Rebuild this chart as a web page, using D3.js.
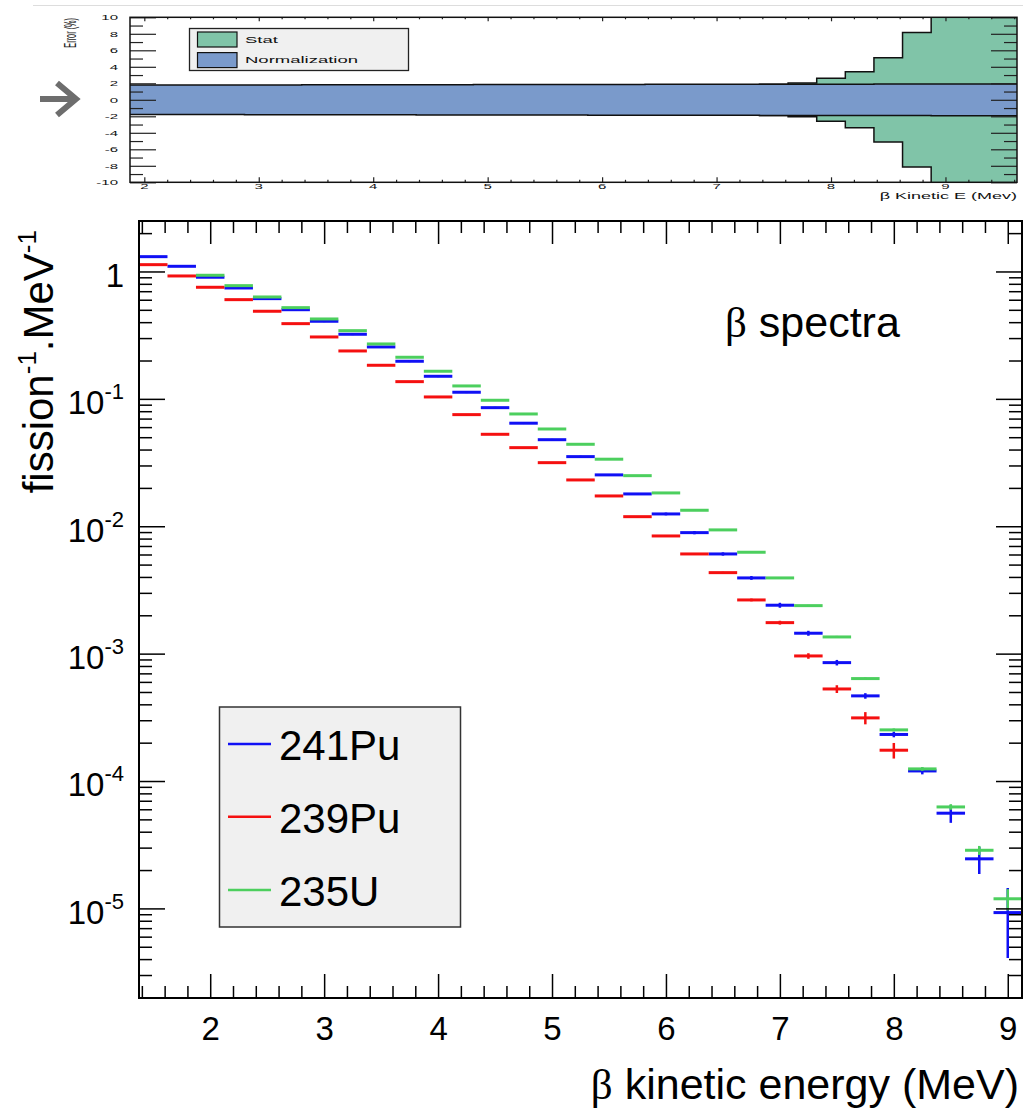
<!DOCTYPE html>
<html>
<head>
<meta charset="utf-8">
<script src="https://cdn.jsdelivr.net/npm/d3@7"></script>
<style>
  html, body { margin: 0; padding: 0; background: #fff; }
  svg { display: block; font-family: "Liberation Sans", Arial, Helvetica, sans-serif; }
</style>
</head>
<body>
<svg id="chart" width="1023" height="1111"></svg>
<script>
// ---- spectra: bin centres (MeV), bins are 0.25 MeV wide ----
const energies = [1.5, 1.75, 2.0, 2.25, 2.5, 2.75, 3.0, 3.25, 3.5, 3.75, 4.0, 4.25, 4.5, 4.75, 5.0, 5.25,
                  5.5, 5.75, 6.0, 6.25, 6.5, 6.75, 7.0, 7.25, 7.5, 7.75, 8.0, 8.25, 8.5, 8.75, 9.0];
const pu241 = [1.307, 1.098, 0.901, 0.742, 0.612, 0.501, 0.4065, 0.3214, 0.2556, 0.1973, 0.1504, 0.1127,
               0.0853, 0.0644, 0.0478, 0.0352, 0.0253, 0.01793, 0.01249, 0.00891, 0.00606, 0.003929,
               0.002399, 0.001446, 0.000850, 0.000466, 0.000232, 0.000120, 5.59e-5, 2.45e-5, 9.27e-6];
const pu239 = [1.131, 0.922, 0.7515, 0.6009, 0.4871, 0.3894, 0.3061, 0.2377, 0.1835, 0.1365, 0.1035, 0.0752,
               0.0527, 0.0414, 0.03156, 0.02309, 0.01729, 0.01189, 0.00839, 0.00606, 0.004323, 0.002639,
               0.001751, 0.000959, 0.000528, 0.000313, 0.0001745, null, null, null, null];
const u235 = [null, null, 0.9337, 0.7739, 0.6307, 0.5199, 0.4238, 0.3430, 0.2698, 0.2121, 0.1647, 0.1263,
              0.0975, 0.0761, 0.0580, 0.0440, 0.0336, 0.02495, 0.01826, 0.01335, 0.00936, 0.00625,
              0.003929, 0.002381, 0.001352, 0.000637, 0.000252, 0.0001245, 6.26e-5, 2.86e-5, 1.19e-5];
// relative errors (fraction of value)
const pu241Err = [0.01, 0.01, 0.01, 0.01, 0.01, 0.01, 0.015, 0.015, 0.015, 0.015, 0.015, 0.015, 0.015, 0.015,
                  0.015, 0.015, 0.015, 0.015, 0.025, 0.03, 0.03, 0.035, 0.045, 0.045, 0.05, 0.05, 0.05,
                  0.06, 0.16, 0.24, 0.56];
const pu239Err = [0.01, 0.01, 0.01, 0.01, 0.01, 0.01, 0.01, 0.01, 0.01, 0.01, 0.01, 0.01, 0.01, 0.01, 0.01,
                  0.01, 0.01, 0.01, 0.01, 0.012, 0.015, 0.025, 0.035, 0.05, 0.07, 0.11, 0.14,
                  null, null, null, null];

// ---- error panel (235U): stat and normalization, in % ----
const errEnergies = [2.0, 2.25, 2.5, 2.75, 3.0, 3.25, 3.5, 3.75, 4.0, 4.25, 4.5, 4.75, 5.0, 5.25, 5.5, 5.75,
                     6.0, 6.25, 6.5, 6.75, 7.0, 7.25, 7.5, 7.75, 8.0, 8.25, 8.5, 8.75, 9.0, 9.25, 9.5];
const statErr = [0.3, 0.3, 0.3, 0.3, 0.3, 0.3, 0.35, 0.35, 0.4, 0.4, 0.45, 0.5, 0.5, 0.55, 0.6, 0.65,
                 0.7, 0.8, 0.9, 1.0, 1.2, 1.4, 1.9, 2.05, 2.6, 3.4, 5.1, 8.15, 19, 35, 60];
const normErr = [1.78, 1.78, 1.79, 1.79, 1.80, 1.80, 1.81, 1.81, 1.82, 1.82, 1.83, 1.83, 1.84, 1.84, 1.85,
                 1.85, 1.86, 1.86, 1.87, 1.87, 1.88, 1.88, 1.89, 1.89, 1.90, 1.90, 1.91, 1.91, 1.92, 1.92, 1.93];

// ---- labels / ticks ----
const seriesNames = ["241Pu", "239Pu", "235U"];
const seriesColors = ["#1010f5", "#f51010", "#4ccf5e"];
const errLegend = ["Stat", "Normalization"];
const errColors = ["#80c4a8", "#7a9acb"];
const errYTicks = [-10, -8, -6, -4, -2, 0, 2, 4, 6, 8, 10];
const errYMinor = [-9, -7, -5, -3, -1, 1, 3, 5, 7, 9];
const errXTicks = [2, 3, 4, 5, 6, 7, 8, 9];
const specXTicks = [2, 3, 4, 5, 6, 7, 8, 9];
const specYTicks = [1e-5, 1e-4, 1e-3, 1e-2, 1e-1, 1];

const svg = d3.select("#chart");
const halfBin = 0.125;

/**
 * Draw text squashed vertically (the error panel is a flattened picture).
 */
function squashed(g, str, x, y, size, sy, anchor) {
    return g.append("text")
        .attr("transform", `translate(${x},${y}) scale(1,${sy})`)
        .attr("font-size", size)
        .attr("text-anchor", anchor)
        .attr("fill", "#111")
        .text(str);
}

function styleTicks(g, colour, width) {
    g.select(".domain").remove();
    g.selectAll("line").attr("stroke", colour).attr("stroke-width", width);
}

// ===================== error panel =====================
const errBox = {left: 130, right: 1017, top: 17.3, bottom: 182.3};
const xErr = d3.scaleLinear().domain([1.875, 9.625]).range([errBox.left, errBox.right]);
const yErr = d3.scaleLinear().domain([-10, 10]).range([errBox.bottom, errBox.top]);

svg.append("line")
    .attr("x1", 33).attr("x2", 1023).attr("y1", 5.5).attr("y2", 5.5)
    .attr("stroke", "#dddddd").attr("stroke-width", 1.2);

// grey arrow on the left
svg.append("path")
    .attr("d", "M40,99H75M57,83L76,99L57,115")
    .attr("fill", "none")
    .attr("stroke", "#6d6d6d")
    .attr("stroke-width", 6);

svg.append("clipPath").attr("id", "errClip").append("rect")
    .attr("x", errBox.left).attr("y", errBox.top)
    .attr("width", errBox.right - errBox.left).attr("height", errBox.bottom - errBox.top);

function stepPoints(centres, vals) {
    return centres.flatMap((c, i) => [[c - halfBin, vals[i]], [c + halfBin, vals[i]]]);
}

const band = d3.area().x(d => xErr(d[0])).y0(d => yErr(-d[1])).y1(d => yErr(d[1]));
const upperEdge = d3.line().x(d => xErr(d[0])).y(d => yErr(d[1]));
const lowerEdge = d3.line().x(d => xErr(d[0])).y(d => yErr(-d[1]));

const errPlot = svg.append("g").attr("clip-path", "url(#errClip)");
[statErr, normErr].forEach((vals, k) => {
    const pts = stepPoints(errEnergies, vals);
    errPlot.append("path").attr("d", band(pts)).attr("fill", errColors[k]);
    errPlot.append("path").attr("d", upperEdge(pts))
        .attr("fill", "none").attr("stroke", "#111").attr("stroke-width", 1.5);
    errPlot.append("path").attr("d", lowerEdge(pts))
        .attr("fill", "none").attr("stroke", "#111").attr("stroke-width", 1.5);
});

// ticks of the error panel
const errXMinor = d3.range(20, 97, 2).map(v => v / 10).filter(v => !Number.isInteger(v));
svg.append("g").attr("transform", `translate(${errBox.left},0)`)
    .call(d3.axisRight(yErr).tickValues(errYTicks).tickSize(26).tickFormat(""))
    .call(g => styleTicks(g, "#222", 1.2));
svg.append("g").attr("transform", `translate(${errBox.left},0)`)
    .call(d3.axisRight(yErr).tickValues(errYMinor).tickSize(13).tickFormat(""))
    .call(g => styleTicks(g, "#222", 1.2));
svg.append("g").attr("transform", `translate(${errBox.right},0)`)
    .call(d3.axisLeft(yErr).tickValues(errYTicks).tickSize(26).tickFormat(""))
    .call(g => styleTicks(g, "#222", 1.2));
svg.append("g").attr("transform", `translate(${errBox.right},0)`)
    .call(d3.axisLeft(yErr).tickValues(errYMinor).tickSize(13).tickFormat(""))
    .call(g => styleTicks(g, "#222", 1.2));
svg.append("g").attr("transform", `translate(0,${errBox.bottom})`)
    .call(d3.axisTop(xErr).tickValues(errXTicks).tickSize(5).tickFormat(""))
    .call(g => styleTicks(g, "#222", 1.2));
svg.append("g").attr("transform", `translate(0,${errBox.bottom})`)
    .call(d3.axisTop(xErr).tickValues(errXMinor).tickSize(2.5).tickFormat(""))
    .call(g => styleTicks(g, "#222", 1.2));
svg.append("g").attr("transform", `translate(0,${errBox.top})`)
    .call(d3.axisBottom(xErr).tickValues(errXTicks).tickSize(4).tickFormat(""))
    .call(g => styleTicks(g, "#222", 1.2));
svg.append("g").attr("transform", `translate(0,${errBox.top})`)
    .call(d3.axisBottom(xErr).tickValues(errXMinor).tickSize(2).tickFormat(""))
    .call(g => styleTicks(g, "#222", 1.2));

svg.append("rect")
    .attr("x", errBox.left).attr("y", errBox.top)
    .attr("width", errBox.right - errBox.left).attr("height", errBox.bottom - errBox.top)
    .attr("fill", "none").attr("stroke", "#111").attr("stroke-width", 1.5);

const errLabels = svg.append("g");
errYTicks.forEach(v => squashed(errLabels, String(v), 118, yErr(v) + 2.8, 15, 0.5, "end"));
errXTicks.forEach(v => squashed(errLabels, String(v), xErr(v), 189.3, 15, 0.45, "middle"));
squashed(errLabels, "\u03b2 Kinetic E (Mev)", 1017, 199, 18, 0.52, "end");

errLabels.append("text")
    .attr("transform", "translate(76,18) rotate(-90) scale(0.43,1)")
    .attr("font-size", 17)
    .attr("text-anchor", "end")
    .attr("fill", "#222")
    .text("Error (%)");

// legend of the error panel
const errLeg = svg.append("g");
errLeg.append("rect")
    .attr("x", 189.5).attr("y", 28.5).attr("width", 219).attr("height", 42)
    .attr("fill", "#f0f0f0").attr("stroke", "#222").attr("stroke-width", 1.3);
errLegend.forEach((name, i) => {
    errLeg.append("rect")
        .attr("x", 197.5).attr("y", 32 + i * 20.6).attr("width", 39.5).attr("height", 15)
        .attr("fill", errColors[i]).attr("stroke", "#111").attr("stroke-width", 1.2);
    squashed(errLeg, name, 245, 43.3 + i * 20, 18.5, 0.53, "start");
});

// ===================== spectra panel =====================
const specBox = {left: 139, right: 1022, top: 221, bottom: 998};
const x = d3.scaleLinear().domain([1.375, 9.125]).range([specBox.left, specBox.right]);
const y = d3.scaleLog().domain([1.98e-6, 2.49]).range([specBox.bottom, specBox.top]);

svg.append("clipPath").attr("id", "specClip").append("rect")
    .attr("x", specBox.left).attr("y", specBox.top)
    .attr("width", specBox.right - specBox.left).attr("height", specBox.bottom - specBox.top);

const plot = svg.append("g").attr("clip-path", "url(#specClip)");
const series = [
    {values: pu241, err: pu241Err},
    {values: pu239, err: pu239Err},
    {values: u235, err: energies.map(e => {
        const k = errEnergies.indexOf(e);
        return k < 0 ? null : statErr[k] / 100;
    })}
];

series.forEach((s, k) => {
    const bins = energies.map((e, i) => ({e: e, v: s.values[i], r: s.err[i]}))
        .filter(d => d.v !== null);
    const g = plot.append("g").attr("stroke", seriesColors[k]);
    g.selectAll("line.bar").data(bins).enter().append("line")
        .attr("class", "bar")
        .attr("x1", d => x(d.e - halfBin))
        .attr("x2", d => x(d.e + halfBin))
        .attr("y1", d => y(d.v))
        .attr("y2", d => y(d.v))
        .attr("stroke-width", 3);
    g.selectAll("line.err").data(bins).enter().append("line")
        .attr("class", "err")
        .attr("x1", d => x(d.e))
        .attr("x2", d => x(d.e))
        .attr("y1", d => y(d.v * (1 + d.r)))
        .attr("y2", d => y(d.v * (1 - d.r)))
        .attr("stroke-width", 2.5);
});

// axes of the spectra panel
const specXMinor = d3.range(14, 92, 2).map(v => v / 10).filter(v => !Number.isInteger(v));
const specYMinor = [];
[1e-6, 1e-5, 1e-4, 1e-3, 1e-2, 1e-1, 1].forEach(dec => {
    for (let m = 2; m <= 9; m++) {
        const v = dec * m;
        if (v > y.domain()[0] && v < y.domain()[1]) specYMinor.push(v);
    }
});

const xAxis = svg.append("g").attr("transform", `translate(0,${specBox.bottom})`)
    .call(d3.axisBottom(x).tickValues(specXTicks).tickSize(-24).tickPadding(19).tickFormat(d3.format("d")))
    .call(g => styleTicks(g, "#000", 1.5));
xAxis.selectAll("text")
    .attr("font-family", "'Liberation Sans', Arial, sans-serif")
    .attr("font-size", 33).attr("fill", "#000");

svg.append("g").attr("transform", `translate(0,${specBox.bottom})`)
    .call(d3.axisBottom(x).tickValues(specXMinor).tickSize(-12).tickFormat(""))
    .call(g => styleTicks(g, "#000", 1.5));
svg.append("g").attr("transform", `translate(0,${specBox.top})`)
    .call(d3.axisTop(x).tickValues(specXTicks).tickSize(-23).tickFormat(""))
    .call(g => styleTicks(g, "#000", 1.5));
svg.append("g").attr("transform", `translate(0,${specBox.top})`)
    .call(d3.axisTop(x).tickValues(specXMinor).tickSize(-12).tickFormat(""))
    .call(g => styleTicks(g, "#000", 1.5));

const yAxis = svg.append("g").attr("transform", `translate(${specBox.left},0)`)
    .call(d3.axisLeft(y).tickValues(specYTicks).tickSize(-26).tickPadding(15).tickFormat(() => ""))
    .call(g => styleTicks(g, "#000", 1.5));
yAxis.selectAll("text")
    .attr("font-family", "'Liberation Sans', Arial, sans-serif")
    .attr("font-size", 33).attr("fill", "#000").attr("dy", "0.45em")
    .each(function(d) {
        const t = d3.select(this);
        if (d === 1) {
            t.append("tspan").text("1");
        } else {
            t.append("tspan").text("10");
            t.append("tspan").attr("dy", -15).attr("font-size", 22).text(Math.round(Math.log10(d)));
        }
    });
svg.append("g").attr("transform", `translate(${specBox.left},0)`)
    .call(d3.axisLeft(y).tickValues(specYMinor).tickSize(-13).tickFormat(""))
    .call(g => styleTicks(g, "#000", 1.5));
svg.append("g").attr("transform", `translate(${specBox.right},0)`)
    .call(d3.axisRight(y).tickValues(specYTicks).tickSize(-26).tickFormat(""))
    .call(g => styleTicks(g, "#000", 1.5));
svg.append("g").attr("transform", `translate(${specBox.right},0)`)
    .call(d3.axisRight(y).tickValues(specYMinor).tickSize(-13).tickFormat(""))
    .call(g => styleTicks(g, "#000", 1.5));

svg.append("rect")
    .attr("x", specBox.left).attr("y", specBox.top)
    .attr("width", specBox.right - specBox.left).attr("height", specBox.bottom - specBox.top)
    .attr("fill", "none").attr("stroke", "#000").attr("stroke-width", 2);

// axis titles
const yTitle = svg.append("text")
    .attr("transform", "translate(53,230) rotate(-90)")
    .attr("text-anchor", "end")
    .attr("font-size", 42)
    .attr("fill", "#000");
yTitle.append("tspan").text("fission");
yTitle.append("tspan").attr("dy", -17).attr("font-size", 26).text("-1");
yTitle.append("tspan").attr("dy", 17).text(".MeV");
yTitle.append("tspan").attr("dy", -17).attr("font-size", 26).text("-1");

const xTitle = svg.append("text")
    .attr("x", 1019).attr("y", 1099)
    .attr("text-anchor", "end")
    .attr("font-size", 43)
    .attr("fill", "#000");
xTitle.append("tspan").attr("font-family", "'Liberation Serif', serif").text("\u03b2");
xTitle.append("tspan").text(" kinetic energy (MeV)");

const spectraLabel = svg.append("text")
    .attr("x", 725).attr("y", 337)
    .attr("font-size", 43)
    .attr("fill", "#000");
spectraLabel.append("tspan").attr("font-family", "'Liberation Serif', serif").text("\u03b2");
spectraLabel.append("tspan").text(" spectra");

// legend of the spectra panel
const legend = svg.append("g");
legend.append("rect")
    .attr("x", 219.5).attr("y", 707).attr("width", 241).attr("height", 220)
    .attr("fill", "#f0f0f0").attr("stroke", "#333").attr("stroke-width", 1.5);
const legendRows = [744, 816.7, 890];
seriesNames.forEach((name, i) => {
    legend.append("line")
        .attr("x1", 228).attr("x2", 271)
        .attr("y1", legendRows[i]).attr("y2", legendRows[i])
        .attr("stroke", seriesColors[i]).attr("stroke-width", 2.5);
    legend.append("text")
        .attr("x", 279).attr("y", legendRows[i] + 16)
        .attr("font-size", 42)
        .attr("fill", "#000")
        .text(name);
});
</script>
</body>
</html>
